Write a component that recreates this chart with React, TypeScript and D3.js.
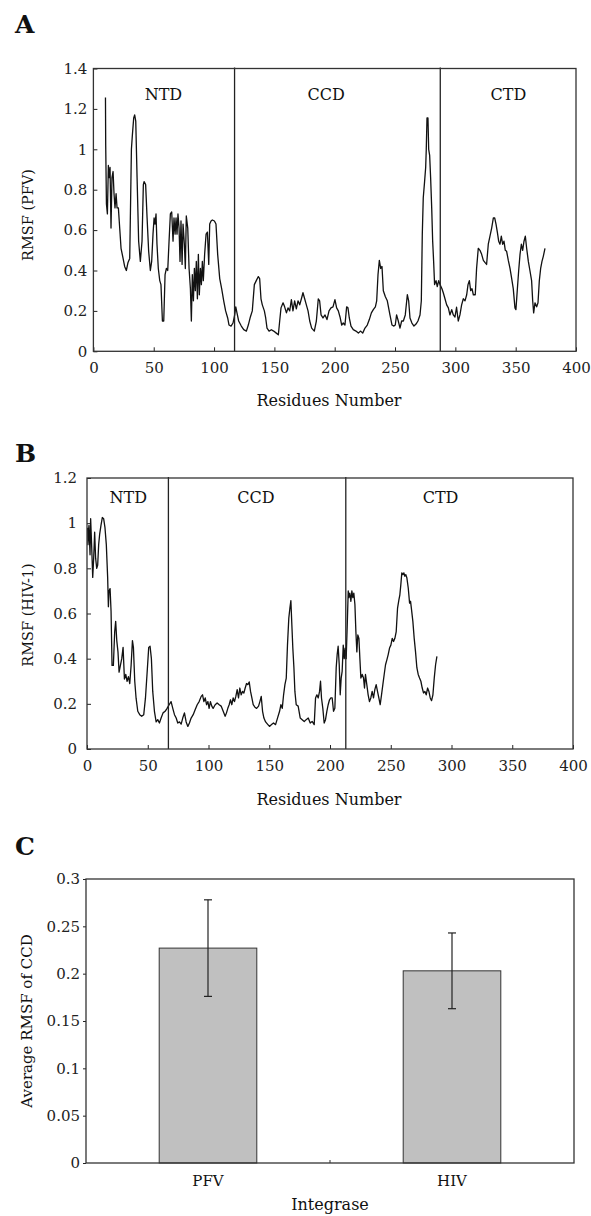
import React, { useEffect, useRef } from "react";
import * as d3 from "d3";

const W = 591;
const H = 1216;
const FONT = "'DejaVu Serif', serif";

// residue ticks shared by the two RMSF traces
const residueTicks = [0, 50, 100, 150, 200, 250, 300, 350, 400];
const pfvTicks = [0, 0.2, 0.4, 0.6, 0.8, 1, 1.2, 1.4];
const hivTicks = [0, 0.2, 0.4, 0.6, 0.8, 1, 1.2];
const avgTicks = [0, 0.05, 0.1, 0.15, 0.2, 0.25, 0.3];

// domain names, where the text sits (residue) and the domain borders
const domainNames = ["NTD", "CCD", "CTD"];
const pfvLabelAt = [58, 193, 344];
const hivLabelAt = [34, 139, 291];
const pfvBounds = [117, 287.5];
const hivBounds = [67, 213];

// PFV integrase RMSF, [residue, nm]
const pfvNTD = [
  [10, 1.257], [10.2, 1.02], [10.8, 0.73], [11.6, 0.68], [12.4, 0.92], [13.2, 0.86], [13.8, 0.91],
  [14.6, 0.61], [15.4, 0.86], [16.3, 0.89], [17.1, 0.78], [17.9, 0.71], [18.8, 0.78], [19.6, 0.71],
  [20.7, 0.71], [21.8, 0.61], [22.9, 0.51], [24.6, 0.46], [25.9, 0.42], [27.3, 0.4], [28.7, 0.44],
  [30.1, 0.46], [31.5, 1.0], [32.3, 1.07], [33.4, 1.155], [34.2, 1.17], [35.1, 1.14], [36.2, 0.86],
  [37.5, 0.545], [38.9, 0.445], [40.3, 0.545], [41.4, 0.825], [42, 0.84], [43.3, 0.825], [44.5, 0.66],
  [45.8, 0.495], [47.2, 0.4], [48.3, 0.445], [49.4, 0.58], [50.3, 0.66], [51.1, 0.63], [51.9, 0.68],
  [52.7, 0.53], [53.8, 0.41], [55, 0.35], [56, 0.33], [57.2, 0.15], [58.3, 0.15], [59.4, 0.38],
  [60.5, 0.41], [61.6, 0.4], [62.7, 0.545], [63.8, 0.68], [64.9, 0.69], [66, 0.545], [66.8, 0.66],
  [67.7, 0.58], [68.5, 0.66], [69.3, 0.58], [70.1, 0.68], [71, 0.61], [71.8, 0.445], [72.6, 0.645],
  [73.5, 0.43], [74.3, 0.63], [75.4, 0.53], [76.2, 0.41], [77, 0.67], [78.2, 0.61], [79.3, 0.41],
  [80.4, 0.31], [81.2, 0.15], [82, 0.38], [82.9, 0.25], [83.7, 0.41], [84.5, 0.3], [85.3, 0.445],
  [86.2, 0.26], [87, 0.48], [87.8, 0.28], [88.7, 0.41], [89.5, 0.33], [90.3, 0.445], [91.1, 0.35],
  [92.2, 0.48], [93.4, 0.58], [94.5, 0.59], [95.6, 0.43], [96.4, 0.63], [97.5, 0.645], [98.6, 0.65],
  [100.3, 0.645], [101.6, 0.63], [103, 0.48], [104.7, 0.36], [106.3, 0.31], [108, 0.25], [109.6, 0.2],
  [111.3, 0.165], [112.4, 0.13], [114.1, 0.125], [115.7, 0.14], [117.1, 0.18],
];
const pfvCCD = [
  [118, 0.22], [119, 0.19], [120.4, 0.15], [122.6, 0.125], [124.6, 0.107], [126.8, 0.1], [128.4, 0.13],
  [130.1, 0.17], [131.7, 0.2], [133.4, 0.33], [135, 0.35], [136.7, 0.37], [137.8, 0.36], [138.9, 0.26],
  [140, 0.23], [141.7, 0.2], [142.8, 0.165], [143.9, 0.115], [145.6, 0.1], [147.5, 0.107], [149.4, 0.1],
  [151.6, 0.09], [153.3, 0.082], [154.4, 0.15], [155.5, 0.215], [157.2, 0.24], [158.5, 0.22], [160, 0.19],
  [161.3, 0.215], [162.7, 0.2], [164.1, 0.256], [165.4, 0.2], [166.8, 0.25], [168.2, 0.21], [169.6, 0.25],
  [171, 0.23], [172.4, 0.26], [173.7, 0.29], [175.1, 0.26], [176.5, 0.23], [177.9, 0.2], [179.3, 0.15],
  [180.9, 0.115], [183.1, 0.1], [184.8, 0.15], [186.4, 0.26], [187.5, 0.25], [188.7, 0.18], [190.3, 0.165],
  [192, 0.18], [193.6, 0.157], [195.3, 0.2], [196.9, 0.215], [198.6, 0.22], [200.2, 0.256], [201.6, 0.215],
  [203, 0.2], [204.4, 0.17], [205.8, 0.13], [207.1, 0.14], [208.5, 0.13], [209.9, 0.22], [211, 0.215],
  [212.1, 0.165], [213.5, 0.125], [215.4, 0.107], [217.6, 0.1], [219.6, 0.09], [221.5, 0.1], [223.2, 0.09],
  [225.1, 0.115], [227, 0.13], [228.7, 0.157], [230.4, 0.19], [232, 0.206], [233.7, 0.22], [234.8, 0.25],
  [235.9, 0.38], [237, 0.45], [238.1, 0.41], [239.2, 0.42], [240.3, 0.3], [242, 0.27], [243.6, 0.25],
  [244.7, 0.215], [245.8, 0.18], [247.5, 0.13], [249.1, 0.125], [250.2, 0.13], [251.3, 0.18], [252.7, 0.15],
  [254.1, 0.115], [255.5, 0.15], [256.9, 0.15], [258.5, 0.18], [260.2, 0.28], [261.3, 0.25], [262.4, 0.165],
  [264, 0.14], [265.7, 0.125], [267.4, 0.135], [269, 0.15], [270.7, 0.18], [271.8, 0.25], [272.6, 0.58],
  [273.4, 0.76], [274.5, 0.84], [275.4, 0.91], [275.9, 1.0], [276.5, 1.155], [277.3, 1.155], [277.9, 1.0],
  [278.7, 0.97], [279.5, 0.86], [280.4, 0.71], [281.2, 0.545], [282, 0.445], [282.8, 0.33], [284, 0.35],
  [285, 0.32], [286.2, 0.35], [287.3, 0.33],
];
const pfvCTD = [
  [288.9, 0.31], [290, 0.29], [291.4, 0.26], [292.8, 0.23], [294.2, 0.215], [295.5, 0.18], [297, 0.206],
  [298.3, 0.18], [299.7, 0.17], [301, 0.218], [302.4, 0.15], [303.8, 0.18], [305.2, 0.23], [306.6, 0.26],
  [308, 0.25], [309.4, 0.28], [310.5, 0.33], [311.6, 0.35], [312.7, 0.3], [313.8, 0.31], [314.9, 0.28],
  [316.5, 0.28], [317.6, 0.41], [319, 0.51], [320.4, 0.5], [321.8, 0.48], [323.2, 0.45], [324.5, 0.44],
  [325.9, 0.43], [327.3, 0.53], [328.7, 0.57], [330.1, 0.61], [331.5, 0.66], [332.6, 0.66], [333.7, 0.63],
  [334.8, 0.59], [335.9, 0.545], [337, 0.53], [338.1, 0.57], [339.2, 0.53], [340.3, 0.545], [341.4, 0.5],
  [342.5, 0.495], [343.9, 0.45], [345.3, 0.41], [346.7, 0.36], [348, 0.31], [349.4, 0.215], [350.2, 0.206],
  [351.3, 0.3], [352.5, 0.4], [353.6, 0.48], [354.7, 0.53], [355.8, 0.5], [356.9, 0.545], [358, 0.57],
  [359.1, 0.51], [360.5, 0.445], [361.8, 0.4], [363.2, 0.35], [364.1, 0.25], [364.9, 0.19], [366, 0.24],
  [367.4, 0.22], [368.5, 0.24], [369.6, 0.35], [370.7, 0.41], [371.8, 0.445], [372.9, 0.47], [374.3, 0.51],
];

// HIV-1 integrase RMSF, [residue, nm]
const hivNTD = [
  [0.5, 0.98], [0.8, 0.905], [1.6, 0.99], [2.5, 0.86], [3, 1.02], [3.8, 0.905], [4.7, 0.76], [5.5, 0.845],
  [6.3, 0.96], [7.1, 0.845], [8, 0.8], [8.8, 0.815], [9.6, 0.905], [10.4, 0.95], [11.5, 0.99], [12.6, 1.025],
  [13.7, 1.02], [14.8, 0.98], [15.9, 0.905], [17, 0.76], [17.6, 0.63], [18.1, 0.7], [19, 0.71], [19.8, 0.61],
  [20.6, 0.37], [21.7, 0.37], [22.8, 0.52], [23.6, 0.565], [24.5, 0.48], [25.5, 0.43], [26.4, 0.34],
  [27.5, 0.37], [28.6, 0.4], [29.7, 0.45], [30.8, 0.31], [31.9, 0.33], [33, 0.3], [34.1, 0.32], [35.2, 0.29],
  [36.3, 0.37], [37.4, 0.48], [38.2, 0.45], [39.3, 0.3], [40.4, 0.225], [41.8, 0.167], [43.4, 0.152],
  [45, 0.145], [46.7, 0.152], [48.1, 0.225], [49.5, 0.34], [50.8, 0.45], [51.9, 0.455], [53, 0.4],
  [54.1, 0.255], [55.5, 0.167], [56.9, 0.12], [58.2, 0.13], [59.6, 0.115], [61, 0.137], [62.6, 0.16],
  [64.3, 0.167], [65.9, 0.18], [67.6, 0.196],
];
const hivCCD = [
  [69.2, 0.21], [70.6, 0.18], [72, 0.152], [73.4, 0.137], [74.7, 0.115], [76.1, 0.12], [77.5, 0.11],
  [78.8, 0.137], [80.2, 0.16], [81.6, 0.12], [83, 0.1], [84.3, 0.115], [85.7, 0.137], [87.4, 0.152],
  [89, 0.174], [90.7, 0.196], [92.3, 0.21], [94, 0.233], [95.1, 0.24], [96.2, 0.21], [97.3, 0.226],
  [98.4, 0.196], [99.5, 0.21], [100.5, 0.18], [101.6, 0.21], [102.7, 0.19], [103.8, 0.18], [105.5, 0.196],
  [107.1, 0.204], [108.8, 0.196], [110.4, 0.19], [112.1, 0.167], [113.7, 0.145], [114.8, 0.16], [115.9, 0.18],
  [117, 0.196], [118.1, 0.218], [119.2, 0.196], [120.3, 0.226], [121.4, 0.21], [122.5, 0.233], [123.6, 0.263],
  [124.7, 0.226], [125.8, 0.27], [126.9, 0.24], [128, 0.255], [129.1, 0.248], [130.2, 0.27], [131.3, 0.29],
  [132.4, 0.285], [133.5, 0.297], [134.6, 0.255], [135.7, 0.226], [136.8, 0.196], [138.2, 0.185],
  [139.6, 0.18], [141.2, 0.19], [142.3, 0.21], [143.4, 0.233], [144.5, 0.167], [145.6, 0.137], [147, 0.12],
  [148.9, 0.108], [150.2, 0.1], [151.9, 0.108], [153.5, 0.115], [155.2, 0.108], [156.8, 0.137], [158.5, 0.167],
  [159.6, 0.196], [160.7, 0.18], [161.8, 0.24], [162.9, 0.285], [164, 0.314], [165, 0.46], [166.1, 0.58],
  [167, 0.624], [167.8, 0.657], [168.6, 0.55], [169.4, 0.447], [170.3, 0.36], [171.1, 0.255], [172.2, 0.196],
  [173.8, 0.19], [175.5, 0.137], [177.1, 0.13], [178.8, 0.122], [180.4, 0.13], [182.1, 0.137], [183.7, 0.115],
  [185.3, 0.122], [187, 0.108], [188.1, 0.226], [189.2, 0.24], [190.3, 0.226], [191.4, 0.255], [192.2, 0.3],
  [193, 0.226], [194.1, 0.18], [195.2, 0.115], [196.3, 0.13], [197.4, 0.167], [198.5, 0.196], [199.6, 0.218],
  [200.7, 0.226], [201.8, 0.226], [202.9, 0.167], [204, 0.18], [205.1, 0.36], [205.9, 0.418], [206.7, 0.455],
  [207.6, 0.373], [208.4, 0.24], [209.2, 0.314], [210, 0.344], [210.9, 0.46], [211.7, 0.4], [212.5, 0.447],
];
const hivCTD = [
  [213.3, 0.4], [214.2, 0.55], [215, 0.7], [215.5, 0.67], [216.3, 0.69], [217.2, 0.654], [218, 0.7],
  [218.8, 0.67], [219.6, 0.69], [220.5, 0.64], [221.3, 0.52], [222.1, 0.43], [222.9, 0.505], [223.8, 0.49],
  [224.6, 0.4], [225.4, 0.314], [226.5, 0.33], [227.6, 0.314], [228.4, 0.27], [229.2, 0.33], [230.3, 0.285],
  [231.4, 0.24], [232.5, 0.21], [233.6, 0.226], [234.7, 0.255], [235.8, 0.226], [236.9, 0.263], [238, 0.285],
  [239.1, 0.255], [240.2, 0.226], [241.3, 0.196], [242.4, 0.24], [243.5, 0.285], [244.6, 0.33], [245.7, 0.373],
  [246.8, 0.395], [247.9, 0.418], [249, 0.447], [250.1, 0.46], [251.2, 0.49], [252.3, 0.476], [253.4, 0.49],
  [254.5, 0.52], [255.6, 0.624], [256.7, 0.66], [257.5, 0.683], [258.3, 0.728], [259.1, 0.78], [260, 0.772],
  [260.8, 0.78], [261.6, 0.765], [262.4, 0.772], [263.3, 0.757], [264.4, 0.713], [265.5, 0.646], [266.3, 0.654],
  [267.1, 0.617], [268.2, 0.565], [269.3, 0.49], [270.4, 0.43], [271.5, 0.36], [272.6, 0.33], [273.7, 0.314],
  [274.8, 0.3], [275.9, 0.27], [277, 0.248], [278.1, 0.255], [279.2, 0.24], [280.3, 0.27], [281.4, 0.255],
  [282.5, 0.226], [283.6, 0.214], [284.7, 0.24], [285.8, 0.314], [286.9, 0.373], [288, 0.41],
];

// panel C: average RMSF of the catalytic core
const integrase = ["PFV", "HIV"];
const avgRmsf = [0.227, 0.203];
const avgErr = [0.051, 0.04];

function drawTrace(root, c) {
  const x = d3.scaleLinear().domain([0, 400]).range([c.left, c.right]);
  const y = d3.scaleLinear().domain([0, c.yMax]).range([c.bottom, c.top]);
  const g = root.append("g");

  // axes, ticks pointing into the plot
  g.append("g")
    .attr("transform", `translate(0,${c.bottom})`)
    .call(d3.axisBottom(x).tickValues(residueTicks).tickSizeInner(-4).tickSizeOuter(0).tickPadding(11).tickFormat(d3.format("~g")))
    .call((a) => a.select(".domain").remove())
    .attr("font-family", FONT)
    .attr("font-size", 15)
    .attr("color", "#222");

  g.append("g")
    .attr("transform", `translate(${c.left},0)`)
    .call(d3.axisLeft(y).tickValues(c.yTicks).tickSizeInner(-4).tickSizeOuter(0).tickPadding(c.yPad).tickFormat(d3.format("~g")))
    .call((a) => a.select(".domain").remove())
    .attr("font-family", FONT)
    .attr("font-size", 15)
    .attr("color", "#222");

  const line = d3
    .line()
    .x((d) => x(d[0]))
    .y((d) => y(d[1]));

  g.append("path")
    .datum(c.data)
    .attr("d", line)
    .attr("fill", "none")
    .attr("stroke", "#111")
    .attr("stroke-width", 1.3)
    .attr("stroke-linejoin", "round");

  g.selectAll(".divider")
    .data(c.bounds)
    .join("line")
    .attr("x1", (d) => x(d))
    .attr("x2", (d) => x(d))
    .attr("y1", c.top - 1)
    .attr("y2", c.bottom)
    .attr("stroke", "#222")
    .attr("stroke-width", 1.3);

  g.append("rect")
    .attr("x", c.left)
    .attr("y", c.top)
    .attr("width", c.right - c.left)
    .attr("height", c.bottom - c.top)
    .attr("fill", "none")
    .attr("stroke", "#333")
    .attr("stroke-width", 1.3);

  g.selectAll(".domainName")
    .data(domainNames)
    .join("text")
    .attr("x", (d, i) => x(c.labelAt[i]))
    .attr("y", c.labelY)
    .attr("text-anchor", "middle")
    .attr("font-family", FONT)
    .attr("font-size", 16)
    .attr("fill", "#111")
    .text((d) => d);

  g.append("text")
    .attr("x", 329)
    .attr("y", c.xTitleY)
    .attr("text-anchor", "middle")
    .attr("font-family", FONT)
    .attr("font-size", 16)
    .attr("fill", "#111")
    .text("Residues Number");

  g.append("text")
    .attr("transform", `translate(28,${c.yTitleY}) rotate(-90)`)
    .attr("text-anchor", "middle")
    .attr("dominant-baseline", "central")
    .attr("font-family", FONT)
    .attr("font-size", 14.5)
    .attr("fill", "#111")
    .text(c.yTitle);
}

function drawBars(root) {
  const left = 86,
    right = 574,
    top = 879,
    bottom = 1163;
  const x = d3.scaleBand().domain(integrase).range([left, right]);
  const y = d3.scaleLinear().domain([0, 0.3]).range([bottom, top]);
  const bw = x.bandwidth();
  const g = root.append("g");

  g.append("g")
    .attr("transform", `translate(${left},0)`)
    .call(d3.axisLeft(y).tickValues(avgTicks).tickSizeInner(3).tickSizeOuter(0).tickPadding(3).tickFormat(d3.format("~g")))
    .call((a) => a.select(".domain").remove())
    .attr("font-family", FONT)
    .attr("font-size", 15)
    .attr("color", "#222");

  g.append("g")
    .attr("transform", `translate(0,${bottom})`)
    .call(d3.axisBottom(x).tickSize(0).tickPadding(12))
    .call((a) => a.select(".domain").remove())
    .attr("font-family", FONT)
    .attr("font-size", 15)
    .attr("color", "#111");

  // tick between the two groups
  g.append("line")
    .attr("x1", x(integrase[1]))
    .attr("x2", x(integrase[1]))
    .attr("y1", bottom)
    .attr("y2", bottom - 3)
    .attr("stroke", "#333");

  g.selectAll(".bar")
    .data(integrase)
    .join("rect")
    .attr("x", (d) => x(d) + bw * 0.3)
    .attr("width", bw * 0.4)
    .attr("y", (d, i) => y(avgRmsf[i]))
    .attr("height", (d, i) => bottom - y(avgRmsf[i]))
    .attr("fill", "#c0c0c0")
    .attr("stroke", "#333")
    .attr("stroke-width", 1);

  const err = g.selectAll(".err").data(integrase).join("g").attr("stroke", "#222").attr("stroke-width", 1.2);
  err
    .append("line")
    .attr("x1", (d) => x(d) + bw / 2)
    .attr("x2", (d) => x(d) + bw / 2)
    .attr("y1", (d, i) => y(avgRmsf[i] + avgErr[i]))
    .attr("y2", (d, i) => y(avgRmsf[i] - avgErr[i]));
  [1, -1].forEach((s) => {
    err
      .append("line")
      .attr("x1", (d) => x(d) + bw / 2 - 4)
      .attr("x2", (d) => x(d) + bw / 2 + 4)
      .attr("y1", (d, i) => y(avgRmsf[i] + s * avgErr[i]))
      .attr("y2", (d, i) => y(avgRmsf[i] + s * avgErr[i]));
  });

  g.append("rect")
    .attr("x", left)
    .attr("y", top)
    .attr("width", right - left)
    .attr("height", bottom - top)
    .attr("fill", "none")
    .attr("stroke", "#333")
    .attr("stroke-width", 1.3);

  g.append("text")
    .attr("x", (left + right) / 2)
    .attr("y", 1210)
    .attr("text-anchor", "middle")
    .attr("font-family", FONT)
    .attr("font-size", 16)
    .attr("fill", "#111")
    .text("Integrase");

  g.append("text")
    .attr("transform", `translate(27,${(top + bottom) / 2}) rotate(-90)`)
    .attr("text-anchor", "middle")
    .attr("dominant-baseline", "central")
    .attr("font-family", FONT)
    .attr("font-size", 15)
    .attr("fill", "#111")
    .text("Average RMSF of CCD");
}

export default function App() {
  const ref = useRef(null);

  useEffect(() => {
    const svg = d3.select(ref.current);
    svg.selectAll("*").remove();

    drawTrace(svg, {
      left: 93.4,
      right: 576,
      top: 68.5,
      bottom: 351.3,
      yMax: 1.4,
      yTicks: pfvTicks,
      yPad: 6,
      data: [...pfvNTD, ...pfvCCD, ...pfvCTD],
      bounds: pfvBounds,
      labelAt: pfvLabelAt,
      labelY: 100,
      xTitleY: 406,
      yTitleY: 215,
      yTitle: "RMSF (PFV)",
    });

    drawTrace(svg, {
      left: 87,
      right: 573,
      top: 478,
      bottom: 749,
      yMax: 1.2,
      yTicks: hivTicks,
      yPad: 10,
      data: [...hivNTD, ...hivCCD, ...hivCTD],
      bounds: hivBounds,
      labelAt: hivLabelAt,
      labelY: 503,
      xTitleY: 805,
      yTitleY: 615,
      yTitle: "RMSF (HIV-1)",
    });

    drawBars(svg);

    // panel letters
    svg
      .selectAll(".panel")
      .data([
        ["A", 33],
        ["B", 462],
        ["C", 855],
      ])
      .join("text")
      .attr("x", 15)
      .attr("y", (d) => d[1])
      .attr("font-family", FONT)
      .attr("font-weight", "bold")
      .attr("font-size", 25)
      .attr("fill", "#111")
      .text((d) => d[0]);
  }, []);

  return <svg ref={ref} width={W} height={H} style={{ position: "absolute", left: 0, top: 0, background: "#fff" }} />;
}
